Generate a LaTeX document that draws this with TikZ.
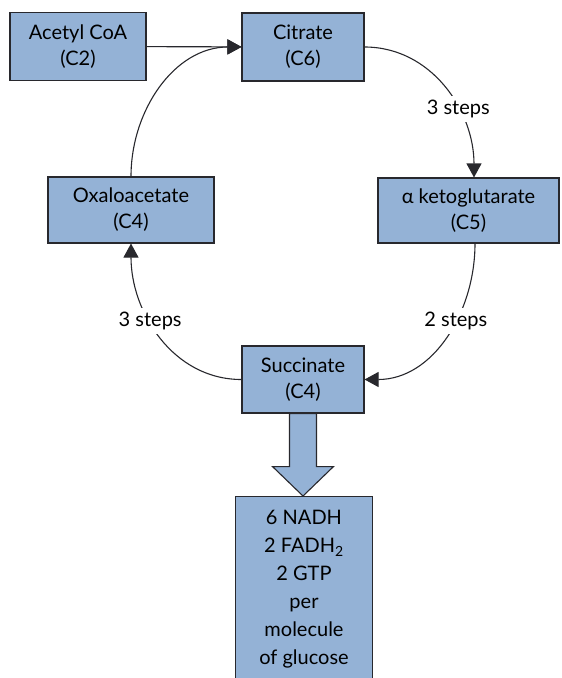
\documentclass[tikz,border=0pt]{standalone}
\usepackage{fontspec}
\setmainfont{Lato}
\usepackage{tikz}
\usetikzlibrary{arrows.meta,positioning,calc}
\definecolor{boxfill}{RGB}{148,178,214}
\definecolor{boxline}{RGB}{40,40,45}

\begin{document}
\begin{tikzpicture}[x=1pt,y=-1pt,
  box/.style={draw=boxline,fill=boxfill,line width=1.1pt,align=center,
              inner sep=0pt,font=\fontsize{20}{26}\selectfont},
  ar/.style={-{Triangle[length=14pt,width=15pt]},line width=1.1pt,draw=boxline},
  lbl/.style={fill=white,inner sep=4pt,font=\fontsize{20}{26}\selectfont},
  fat/.style={draw=boxline,fill=boxfill,line width=1.1pt}
]
\clip (0,0) rectangle (562,678);

\node[box,minimum width=136pt,minimum height=68pt] (acetyl) at (78,46.5) {Acetyl CoA\\(C2)};
\node[box,minimum width=122pt,minimum height=68pt] (citrate) at (303,47) {Citrate\\(C6)};
\node[box,minimum width=181pt,minimum height=65pt] (akg) at (468.5,210.5) {α ketoglutarate\\(C5)};
\node[box,minimum width=166pt,minimum height=66pt] (oxa) at (131,210) {Oxaloacetate\\(C4)};
\node[box,minimum width=122pt,minimum height=67pt] (succ) at (303,379.5) {Succinate\\(C4)};
\node[box,anchor=north,minimum width=137pt,minimum height=186pt,
      font=\fontsize{20}{28}\selectfont] (yield) at (304,496)
      {6 NADH\\2 FADH\textsubscript{2}\\2 GTP\\per\\molecule\\of glucose};

\draw[ar] (acetyl) -- (citrate);
\draw[ar] (citrate.east) to[out=0,in=90] node[lbl,pos=0.64]{3 steps} (akg.north -| 474,0);
\draw[ar] (akg.south -| 475,0) to[out=-90,in=0] node[lbl,pos=0.40]{2 steps} (succ.east);
\draw[ar] (succ.west) to[out=180,in=-90] node[lbl,pos=0.60]{3 steps} (oxa.south);
\draw[ar] (oxa.north) to[out=90,in=180] (citrate.west);

% big arrow down to the yield box
\draw[fat] ($(succ.south)+(-13.5,0)$) -- ($(succ.south)+(13.5,0)$)
  -- ($(succ.south)+(13.5,53)$) -- ($(succ.south)+(30.5,53)$)
  -- (succ.south |- yield.north) -- ($(succ.south)+(-30.5,53)$)
  -- ($(succ.south)+(-13.5,53)$) -- cycle;
\end{tikzpicture}
\end{document}
